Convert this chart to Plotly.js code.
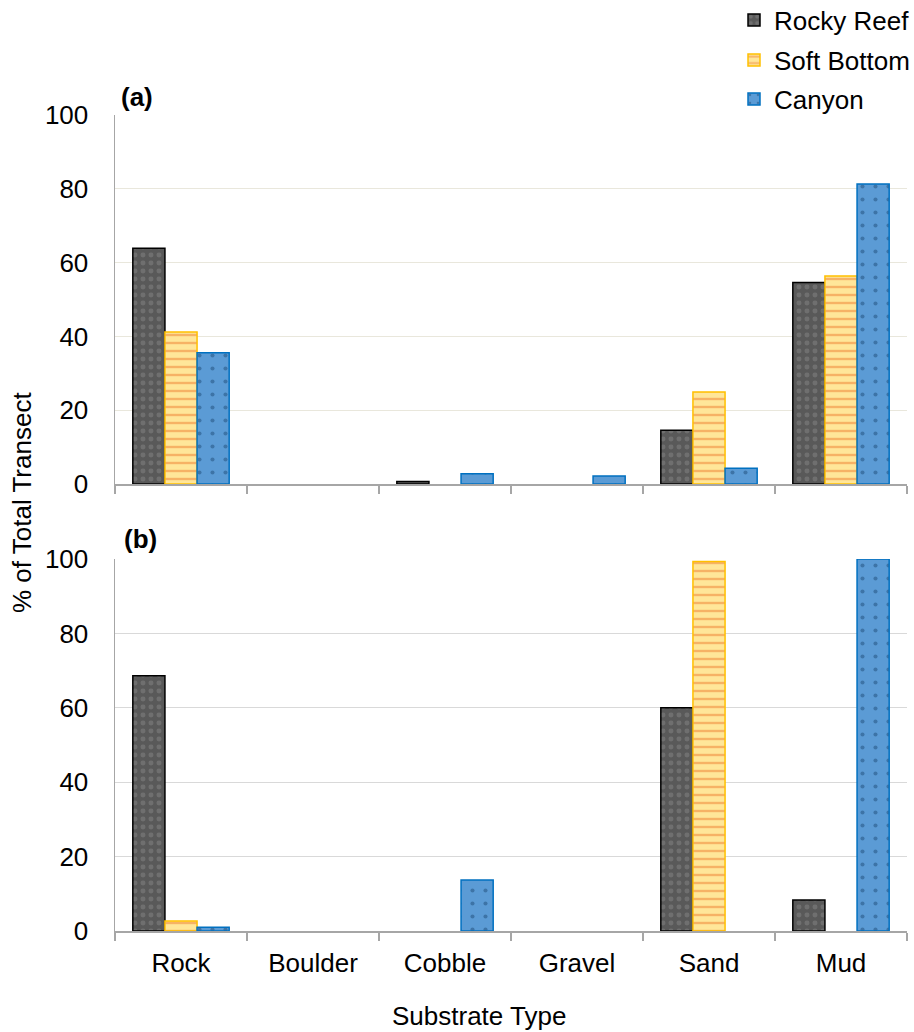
<!DOCTYPE html>
<html>
<head>
<meta charset="utf-8">
<script src="https://cdn.plot.ly/plotly-3.0.1.min.js"></script>
<style>html,body{margin:0;padding:0;background:#fff;}#chart{width:914px;height:1032px;}</style>
</head>
<body>
<div id="chart"></div>
<script>
const categories = ['Rock', 'Boulder', 'Cobble', 'Gravel', 'Sand', 'Mud'];
const seriesNames = ['Rocky Reef', 'Soft Bottom', 'Canyon'];
// Panel (a)
const aRockyReef = [63.9, null, 0.7, null, 14.6, 54.6];
const aSoftBottom = [41.2, null, null, null, 24.9, 56.4];
const aCanyon = [35.6, null, 2.8, 2.2, 4.3, 81.3];
// Panel (b)
const bRockyReef = [68.6, null, null, null, 60.0, 8.3];
const bSoftBottom = [2.7, null, null, null, 99.3, null];
const bCanyon = [1.0, null, 13.7, null, null, 100];
const yTicks = [0, 20, 40, 60, 80, 100];

const styles = [
  {bg: '#595959', fg: '#858585', shape: '.', size: 8, solidity: 0.3, line: '#000000'},
  {bg: '#FFE699', fg: '#ED7D31', shape: '-', size: 8, solidity: 0.3, line: '#FFC000'},
  {bg: '#5B9BD5', fg: '#1F4E79', shape: '.', size: 13, solidity: 0.08, line: '#0070C0'}
];
const legendIds = ['legend', 'legend2', 'legend3'];

function mk(vals, i, xa, ya, showleg) {
  const s = styles[i];
  return {
    type: 'bar', x: categories, y: vals, name: seriesNames[i],
    xaxis: xa, yaxis: ya, showlegend: showleg, legend: legendIds[i],
    marker: {
      color: s.bg,
      line: {color: s.line, width: 1.5},
      pattern: {shape: s.shape, fgcolor: s.fg, bgcolor: s.bg, size: s.size, solidity: s.solidity, fillmode: 'overlay'}
    },
    hoverinfo: 'skip'
  };
}

const data = [
  mk(aRockyReef, 0, 'x', 'y', true),
  mk(aSoftBottom, 1, 'x', 'y', true),
  mk(aCanyon, 2, 'x', 'y', true),
  mk(bRockyReef, 0, 'x2', 'y2', false),
  mk(bSoftBottom, 1, 'x2', 'y2', false),
  mk(bCanyon, 2, 'x2', 'y2', false)
];

const H = 1032, L = 115, W = 792;
function py(px) { return 1 - px / H; }
function px2x(px) { return (px - L) / W; }

const font = {family: 'Liberation Sans, Arial, sans-serif', size: 26, color: '#000'};
const xCommon = {
  type: 'category', showline: true, linecolor: '#A6A6A6', linewidth: 1.5,
  ticks: 'outside', tickson: 'boundaries', ticklen: 8, tickcolor: '#A6A6A6', tickwidth: 1.5,
  showgrid: false, zeroline: false, tickfont: font, fixedrange: true, automargin: false
};
const yCommon = {
  range: [0, 100], tickvals: yTicks, showline: true, linecolor: '#A6A6A6', linewidth: 1.5,
  ticks: '', ticklabelstandoff: 20, showgrid: true, zeroline: false, tickfont: font, fixedrange: true, automargin: false
};

function leg(yc) {
  return {
    x: px2x(734), y: py(yc), xanchor: 'left', yanchor: 'middle',
    font: font, bgcolor: 'rgba(0,0,0,0)', itemwidth: 30
  };
}

const layout = {
  width: 914, height: 1032,
  margin: {l: L, r: 914 - L - W, t: 0, b: 0, pad: 0, autoexpand: false},
  paper_bgcolor: '#fff', plot_bgcolor: '#fff',
  font: font,
  bargap: 0.27, bargroupgap: 0, barmode: 'group',
  xaxis: Object.assign({}, xCommon, {domain: [0, 1], anchor: 'y', showticklabels: false}),
  yaxis: Object.assign({}, yCommon, {domain: [py(484), py(115)], anchor: 'x', gridcolor: '#E9E7DC'}),
  xaxis2: Object.assign({}, xCommon, {domain: [0, 1], anchor: 'y2', ticklabelstandoff: 8}),
  yaxis2: Object.assign({}, yCommon, {domain: [py(931), py(559)], anchor: 'x2', gridcolor: '#D9D9D9'}),
  legend: leg(20),
  legend2: leg(60),
  legend3: leg(99),
  annotations: [
    {text: '<b>(a)</b>', xref: 'paper', yref: 'paper', x: px2x(119), y: py(97), xanchor: 'left', yanchor: 'middle', showarrow: false, font: font},
    {text: '<b>(b)</b>', xref: 'paper', yref: 'paper', x: px2x(122), y: py(539), xanchor: 'left', yanchor: 'middle', showarrow: false, font: font},
    {text: '% of Total Transect', xref: 'paper', yref: 'paper', x: px2x(22), y: py(503), textangle: -90, xanchor: 'center', yanchor: 'middle', showarrow: false, font: font},
    {text: 'Substrate Type', xref: 'paper', yref: 'paper', x: px2x(479), y: py(1016), xanchor: 'center', yanchor: 'middle', showarrow: false, font: font}
  ]
};

Plotly.newPlot('chart', data, layout, {displayModeBar: false, staticPlot: true});
</script>
</body>
</html>
